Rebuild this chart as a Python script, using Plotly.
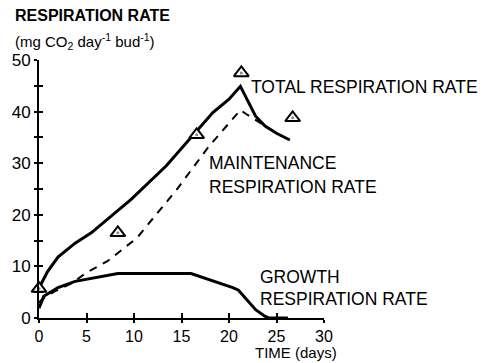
import plotly.graph_objects as go

# Total respiration rate (solid)
total_x = [0, 0.9, 2, 3.8, 5.5, 8, 9.7, 13.4, 16.2, 18.3, 20, 21.2, 22.8, 23.8, 25, 26.4]
total_y = [5.8, 9, 11.8, 14.5, 16.5, 20.3, 23, 29.5, 35.3, 39.8, 42.4, 44.9, 39.1, 37.2, 35.8, 34.5]

# Maintenance respiration rate (dashed)
maint_x = [0, 0.3, 1.5, 3.5, 5, 7.2, 10.3, 11.2, 14.5, 17.9, 21.2, 22, 23.8]
maint_y = [3.0, 3.6, 5.0, 6.8, 8.8, 11, 15.5, 17.5, 24.9, 33.3, 40.3, 39.3, 37.2]

# Growth respiration rate (solid)
growth_x = [0, 0.5, 2, 3.8, 8.3, 16, 20.4, 21, 22.8, 23.8, 24.2, 26.2]
growth_y = [1.9, 4.2, 5.9, 7.1, 8.6, 8.6, 5.9, 5.4, 1.6, 0.3, 0, 0]

# Observed values (triangles)
obs_x = [0, 8.3, 16.6, 21.3, 26.7]
obs_y = [5.7, 16.5, 35.5, 47.5, 38.8]

x_ticks = [0, 5, 10, 15, 20, 25, 30]
y_ticks = [0, 10, 20, 30, 40, 50]

FONT = "Liberation Sans, Arial, sans-serif"

# plot-area geometry in pixels (for placing text in paper coordinates)
W, H = 490, 363
L, R, T, B = 33, 166, 60, 45
PW, PH = W - L - R, H - T - B


def px_to_paper(px, py):
    return (px - L) / PW, (H - B - py) / PH


fig = go.Figure()
fig.add_trace(go.Scatter(x=maint_x, y=maint_y, mode="lines",
                         line=dict(color="black", width=2, dash="8px,7px"),
                         cliponaxis=False, showlegend=False))
fig.add_trace(go.Scatter(x=total_x, y=total_y, mode="lines",
                         line=dict(color="black", width=3),
                         cliponaxis=False, showlegend=False))
fig.add_trace(go.Scatter(x=growth_x, y=growth_y, mode="lines",
                         line=dict(color="black", width=3),
                         cliponaxis=False, showlegend=False))
fig.add_trace(go.Scatter(x=obs_x, y=obs_y, mode="markers",
                         marker=dict(symbol="triangle-up", size=13, color="white",
                                     line=dict(color="black", width=2)),
                         cliponaxis=False, showlegend=False))
fig.add_trace(go.Scatter(x=obs_x, y=obs_y, mode="markers",
                         marker=dict(symbol="circle", size=3, color="#888888"),
                         cliponaxis=False, showlegend=False))
# invisible trace on the overlay axes (gives the crossing tick marks)
fig.add_trace(go.Scatter(x=obs_x, y=obs_y, xaxis="x2", yaxis="y2", mode="markers",
                         marker=dict(opacity=0), hoverinfo="skip", showlegend=False))

axis_common = dict(showgrid=False, zeroline=False, showline=True,
                   linecolor="black", linewidth=2)

fig.update_layout(
    width=W, height=H,
    margin=dict(l=L, r=R, t=T, b=B),
    paper_bgcolor="white", plot_bgcolor="white",
    font=dict(family=FONT, color="black"),
    xaxis=dict(range=[0, 30], tickvals=x_ticks, ticktext=[str(v) for v in x_ticks],
               ticks="outside", ticklen=3, tickwidth=1.5, tickcolor="black",
               tickfont=dict(size=16, family=FONT, color="black"), **axis_common),
    yaxis=dict(range=[0, 50], tickvals=y_ticks, ticktext=[str(v) for v in y_ticks],
               ticks="outside", ticklen=3, tickwidth=1.5, tickcolor="black",
               minor=dict(dtick=5, ticks="outside", ticklen=3, tickwidth=1.5, tickcolor="black"),
               tickfont=dict(size=17, family=FONT, color="black"), **axis_common),
    xaxis2=dict(range=[0, 30], overlaying="x", anchor="y", side="bottom",
                tickvals=x_ticks, showticklabels=False, ticks="inside",
                ticklen=5, tickwidth=1.5, tickcolor="black",
                showgrid=False, zeroline=False, showline=False),
    yaxis2=dict(range=[0, 50], overlaying="y", anchor="x", side="left",
                tickvals=[0, 5, 10, 15, 20, 25, 30, 35, 40, 45, 50],
                showticklabels=False, ticks="inside",
                ticklen=4, tickwidth=1.5, tickcolor="black",
                showgrid=False, zeroline=False, showline=False),
)


def add_text(px, py, text, size, bold=False):
    x, y = px_to_paper(px, py)
    fig.add_annotation(x=x, y=y, xref="paper", yref="paper", xanchor="left",
                       yanchor="middle", showarrow=False,
                       text=f"<b>{text}</b>" if bold else text,
                       font=dict(size=size, family=FONT, color="black"))


add_text(6, 16, "RESPIRATION RATE", 16, bold=True)
add_text(6, 41, "(mg CO<sub>2</sub> day<sup>-1</sup> bud<sup>-1</sup>)", 15)
add_text(247, 87, "TOTAL RESPIRATION RATE", 17.5)
add_text(205, 163, "MAINTENANCE", 17.5)
add_text(205, 187, "RESPIRATION RATE", 17.5)
add_text(257, 277, "GROWTH", 17.5)
add_text(257, 299, "RESPIRATION RATE", 17.5)
add_text(252, 352, "TIME (days)", 15)

fig.write_html("out.html")
